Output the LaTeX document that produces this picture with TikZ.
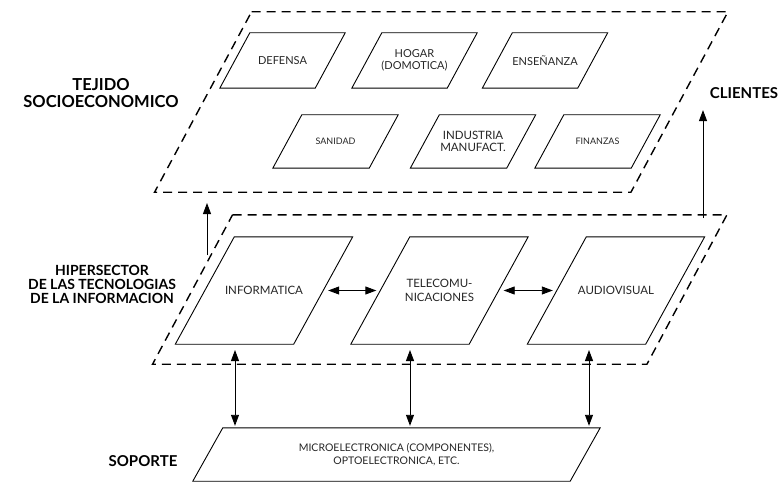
\documentclass[tikz,border=0pt]{standalone}
\usepackage{fontspec}
\setmainfont{Lato}
\usepackage{tikz}
\usetikzlibrary{arrows.meta}

\tikzset{
	capa/.style={rectangle, inner sep=0pt, append after command={\pgfextra{\draw[line width=1.4pt, dash pattern=on 9pt off 6pt] ([xshift=#1]\tikzlastnode.north west) -- ([xshift=#1]\tikzlastnode.north east) -- ([xshift=-#1]\tikzlastnode.south east) -- ([xshift=-#1]\tikzlastnode.south west) -- cycle;}}},
	caja/.style={rectangle, inner sep=0pt, align=center, text=black!85, append after command={\pgfextra{\draw[line width=0.9pt] ([xshift=#1]\tikzlastnode.north west) -- ([xshift=#1]\tikzlastnode.north east) -- ([xshift=-#1]\tikzlastnode.south east) -- ([xshift=-#1]\tikzlastnode.south west) -- cycle;}}},
	titulo/.style={font=\fontsize{15}{16}\selectfont\bfseries, align=center},
	flecha/.style={line width=0.9pt, -{Triangle[length=11pt,width=8pt]}},
	dflecha/.style={line width=0.9pt, {Triangle[length=11pt,width=8pt]}-{Triangle[length=11pt,width=8pt]}}
}

\begin{document}
\begin{tikzpicture}[x=1pt,y=-1pt]
				\useasboundingbox (0,0) rectangle (782,484);
				%%%nodes
				%layers
				\node[capa=48.5, minimum width=476, minimum height=180] at (441.25,102) (tejido){};
				\node[capa=40, minimum width=494, minimum height=149] at (439.75,289.5) (hiper){};
				%socioeconomic, upper row
				\node[caja=15, minimum width=95, minimum height=55, font=\fontsize{11}{12}\selectfont] at (282.5,60.5) (defensa){DEFENSA};
				\node[caja=15, minimum width=95, minimum height=55, font=\fontsize{11}{12}\selectfont] at (414.5,60.5) (hogar){HOGAR\\(DOMOTICA)};
				\node[caja=15, minimum width=95, minimum height=55, font=\fontsize{11}{12}\selectfont] at (545,60.5) (ensenanza){ENSEÑANZA};
				%socioeconomic, lower row
				\node[caja=14.5, minimum width=96, minimum height=53, font=\fontsize{9}{10}\selectfont] at (335.5,141.5) (sanidad){SANIDAD};
				\node[caja=14.5, minimum width=96, minimum height=53, font=\fontsize{11.5}{12}\selectfont] at (473,141.5) (industria){INDUSTRIA\\MANUFACT.};
				\node[caja=14.5, minimum width=96, minimum height=53, font=\fontsize{9}{10}\selectfont] at (597.5,141.5) (finanzas){FINANZAS};
				%hypersector
				\node[caja=29.5, minimum width=118, minimum height=107, font=\fontsize{11.5}{14}\selectfont] at (264,290.5) (informatica){INFORMATICA};
				\node[caja=29.5, minimum width=118, minimum height=107, font=\fontsize{11.5}{14}\selectfont] at (439.5,290.5) (telecom){TELECOMU-\\NICACIONES};
				\node[caja=29.5, minimum width=118, minimum height=107, font=\fontsize{11.5}{14}\selectfont] at (616,290.5) (audiovisual){AUDIOVISUAL};
				%support
				\node[caja=15, minimum width=377, minimum height=53, font=\fontsize{10.5}{13}\selectfont] at (396.5,454.5) (soporte){MICROELECTRONICA (COMPONENTES),\\OPTOELECTRONICA, ETC.};
				%labels
				\node[titulo, font=\fontsize{16.5}{17}\selectfont\bfseries] at (101,93) (lbltejido){TEJIDO\\SOCIOECONOMICO};
				\node[titulo, font=\fontsize{14}{14}\selectfont\bfseries] at (102,284) (lblhiper){HIPERSECTOR\\DE LAS TECNOLOGIAS\\DE LA INFORMACION};
				\node[titulo] at (143,461) (lblsoporte){SOPORTE};
				\node[titulo] at (744,93) (lblclientes){CLIENTES};
				%free ends
				\coordinate (pie) at (207,255);
				\coordinate (punta) at (207,203);
				\coordinate (base) at (703,218);
				\coordinate (v1) at (235,350);
				\coordinate (v2) at (410,350);
				\coordinate (v3) at (589,350);
				%%%links
				\draw[flecha] (pie) -- (punta);
				\draw[flecha, shorten >=8pt] (base) -- (base |- lblclientes.south);
				\draw[dflecha, shorten <=5pt, shorten >=4pt] (informatica.east) -- (telecom.west);
				\draw[dflecha, shorten <=5pt, shorten >=4pt] (telecom.east) -- (audiovisual.west);
				\draw[dflecha, shorten >=2pt] (v1) -- (v1 |- soporte.north);
				\draw[dflecha, shorten >=2pt] (v2) -- (v2 |- soporte.north);
				\draw[dflecha, shorten >=2pt] (v3) -- (v3 |- soporte.north);
			\end{tikzpicture}
\end{document}
